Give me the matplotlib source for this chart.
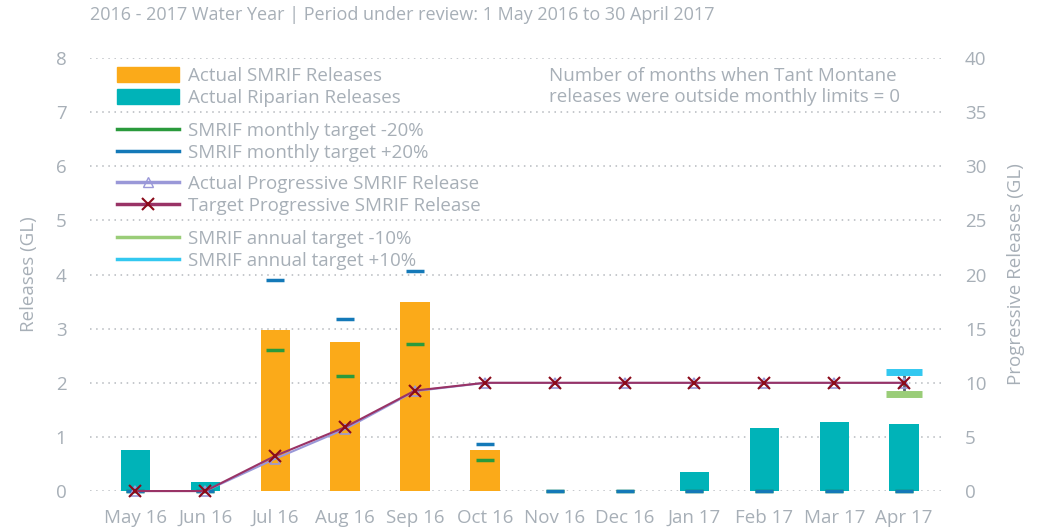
import matplotlib.pyplot as plt
import numpy as np
from matplotlib.patches import Patch
from matplotlib.lines import Line2D

plt.rcParams['font.family'] = ['Open Sans', 'DejaVu Sans']

months = ['May 16', 'Jun 16', 'Jul 16', 'Aug 16', 'Sep 16', 'Oct 16',
          'Nov 16', 'Dec 16', 'Jan 17', 'Feb 17', 'Mar 17', 'Apr 17']
smrif_actual = [0, 0, 2.98, 2.75, 3.50, 0.76, 0, 0, 0, 0, 0, 0]
riparian_actual = [0.75, 0.17, 0, 0, 0, 0, 0, 0, 0.35, 1.16, 1.28, 1.23]
target_minus20 = [0, 0, 2.60, 2.12, 2.71, 0.58, 0, 0, 0, 0, 0, 0]
target_plus20 = [0, 0, 3.90, 3.18, 4.06, 0.87, 0, 0, 0, 0, 0, 0]
prog_actual = [0, 0, 2.98, 5.73, 9.23, 9.99, 9.99, 9.99, 9.99, 9.99, 9.99, 9.99]
prog_target = [0, 0, 3.25, 5.90, 9.28, 10.0, 10.0, 10.0, 10.0, 10.0, 10.0, 10.0]
annual_minus10 = 9.0
annual_plus10 = 11.0

grey = '#A7AFB7'
orange = '#FBAA19'
teal = '#00B3B8'
green = '#2A9A3C'
blue = '#1479B8'
lav = '#9A98D8'
maroon = '#993366'
xred = '#8B0A1A'
lgreen = '#9ACD78'
cyan = '#33C8F0'

x = np.arange(len(months))

fig = plt.figure(figsize=(10.44, 5.28), dpi=100)
ax = fig.add_axes([0.0862, 0.070, 0.818, 0.820])
ax2 = ax.twinx()

ax.bar(x, smrif_actual, width=0.42, color=orange, zorder=2)
ax.bar(x, riparian_actual, width=0.42, color=teal, zorder=2)
ax.plot(x, target_minus20, ls='none', marker='_', ms=13, mew=2.5, color=green, zorder=3, clip_on=False)
ax.plot(x, target_plus20, ls='none', marker='_', ms=13, mew=2.5, color=blue, zorder=3, clip_on=False)

ax2.plot(x, prog_actual, color=lav, lw=1.5, marker='^', ms=7, mfc='none', mec=lav, mew=1.2, zorder=4, clip_on=False)
ax2.plot(x, prog_target, color=maroon, lw=1.5, marker='x', ms=8, mec=xred, mew=1.5, zorder=5, clip_on=False)
ax2.vlines(x[-1], annual_minus10, annual_plus10, color='#5A6470', lw=2, zorder=3)
ax2.plot([x[-1]], [annual_minus10], marker='_', ms=26, mew=5, color=lgreen, zorder=4)
ax2.plot([x[-1]], [annual_plus10], marker='_', ms=26, mew=5, color=cyan, zorder=4)

ax.set_ylim(0, 8)
ax2.set_ylim(0, 40)
ax.set_xlim(-0.65, 11.57)
ax.set_yticks(np.arange(0, 9, 1))
ax2.set_yticks(np.arange(0, 41, 5))
ax.set_xticks(x)
ax.set_xticklabels(months)
ax.grid(axis='y', ls=(0, (1, 3)), color='#B5B9BE', lw=1.1, zorder=0)
ax.set_axisbelow(True)

for a in (ax, ax2):
    for s in a.spines.values():
        s.set_visible(False)
    a.tick_params(length=0, colors=grey, labelsize=13.5)
ax.tick_params(axis='y', pad=17)
ax2.tick_params(axis='y', pad=15)
ax.tick_params(axis='x', pad=13)

ax.set_ylabel('Releases (GL)', color=grey, fontsize=13.5, labelpad=13)
ax2.set_ylabel('Progressive Releases (GL)', color=grey, fontsize=13.5, labelpad=15)

fig.text(0.0862, 0.972, '2016 - 2017 Water Year | Period under review: 1 May 2016 to 30 April 2017',
         color=grey, fontsize=13, va='center')

ax.text(0.538, 0.980, 'Number of months when Tant Montane\nreleases were outside monthly limits = 0',
        transform=ax.transAxes, color=grey, fontsize=13.5, va='top', linespacing=1.22)

groups = [
    [(Patch(color=orange), 'Actual SMRIF Releases'),
     (Patch(color=teal), 'Actual Riparian Releases')],
    [(Line2D([], [], color=green, lw=2.5), 'SMRIF monthly target -20%'),
     (Line2D([], [], color=blue, lw=2.5), 'SMRIF monthly target +20%')],
    [(Line2D([], [], color=lav, lw=2.5, marker='^', ms=7, mfc='none', mec=lav), 'Actual Progressive SMRIF Release'),
     (Line2D([], [], color=maroon, lw=2.5, marker='x', ms=8, mec=xred, mew=1.5), 'Target Progressive SMRIF Release')],
    [(Line2D([], [], color=lgreen, lw=2.5), 'SMRIF annual target -10%'),
     (Line2D([], [], color=cyan, lw=2.5), 'SMRIF annual target +10%')],
]
tops = [0.980, 0.853, 0.731, 0.604]
for i, (g, t) in enumerate(zip(groups, tops)):
    leg = ax.legend([h for h, _ in g], [l for _, l in g], loc='upper left',
                    bbox_to_anchor=(0.032, t), frameon=False, fontsize=13.5,
                    handlelength=3.3, handleheight=0.9, handletextpad=0.45,
                    labelspacing=0.2, borderpad=0, borderaxespad=0)
    for txt in leg.get_texts():
        txt.set_color(grey)
    # the last one stays as the axes legend, the others are kept as extra artists
    if i < len(groups) - 1:
        ax.add_artist(leg)

fig.savefig('out.png', dpi=100)
